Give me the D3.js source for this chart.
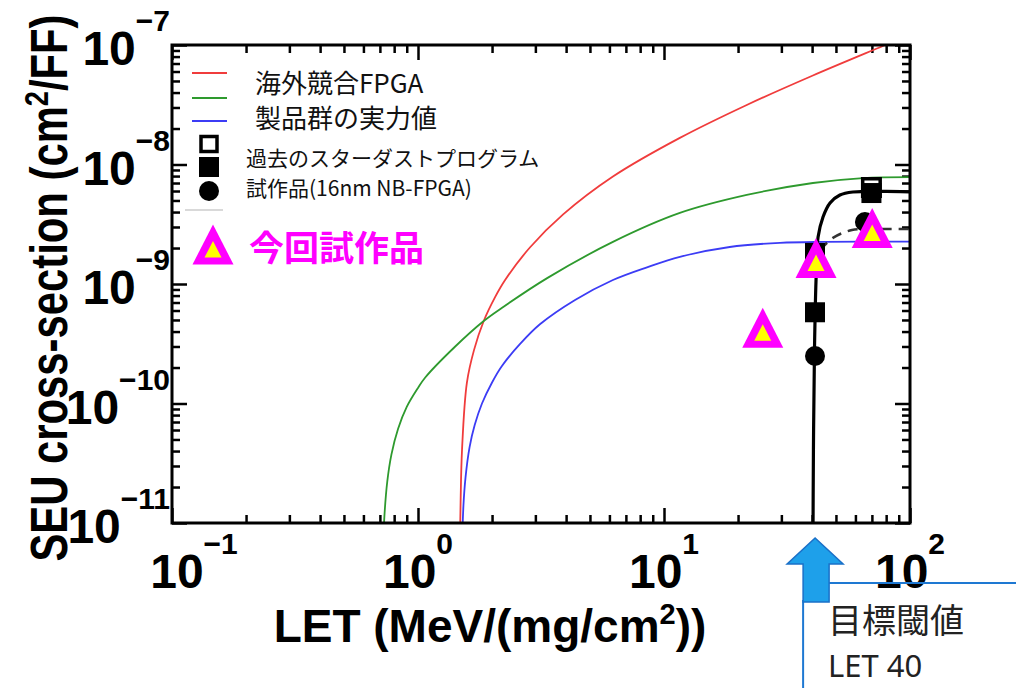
<!DOCTYPE html>
<html>
<head>
<meta charset="utf-8">
<script src="https://cdn.jsdelivr.net/npm/d3@7"></script>
<style>
  html, body { margin: 0; padding: 0; background: #fff; }
  svg { display: block; }
</style>
</head>
<body>
<svg id="chart" width="1016" height="688"></svg>
<script>
// Values: [LET (MeV/(mg/cm2)), cross-section (cm2/FF)]
var competitorFpga = [[1.478, 5e-12], [1.49, 1.5e-11], [1.51, 4.1e-11], [1.58, 1.49e-10], [1.69, 2.81e-10],
  [1.85, 4.9e-10], [2.06, 7.8e-10], [2.26, 1.08e-9], [2.85, 2.02e-9], [3.89, 3.82e-9],
  [6.2, 7.93e-9], [11.6, 1.67e-8], [21.7, 3.15e-8], [40.3, 5.56e-8], [77.6, 9.81e-8], [88.5, 1.1e-7]];

var productGroup = [[0.72, 5.5e-12], [0.73, 1.13e-11], [0.75, 2.22e-11], [0.78, 3.75e-11],
  [0.83, 6.15e-11], [0.9, 9.36e-11], [1.0, 1.35e-10], [1.07, 1.65e-10],
  [1.41, 2.97e-10], [1.85, 4.9e-10], [2.19, 6.3e-10], [3.35, 1.12e-9], [6.2, 2.25e-9],
  [11.6, 3.93e-9], [21.7, 5.56e-9], [40.3, 7.0e-9], [64.4, 7.7e-9], [100, 7.85e-9]];

var productActual = [[1.505, 5e-12], [1.53, 1.4e-11], [1.56, 2.4e-11], [1.62, 4.3e-11], [1.7, 6.6e-11],
  [1.82, 1.0e-10], [2.0, 1.5e-10], [2.19, 2.05e-10], [2.6, 3.15e-10], [3.13, 4.6e-10],
  [4.35, 7.35e-10], [6.2, 1.08e-9], [8.53, 1.38e-9], [11.6, 1.69e-9], [18.5, 2.04e-9],
  [29.6, 2.21e-9], [45, 2.25e-9], [100, 2.26e-9]];

var stardustFit = [[40.3, 5e-12], [40.5, 4.1e-11], [40.9, 2.8e-10], [41.5, 1.08e-9],
  [42.3, 2.47e-9], [44.3, 3.64e-9], [47.3, 4.77e-9], [51.9, 5.56e-9], [58.6, 5.89e-9],
  [100, 5.9e-9]];

var prototypeFit = [[43.1, 1.93e-9], [48.6, 2.43e-9], [58.1, 2.83e-9], [75.5, 2.88e-9], [100, 2.88e-9]];

var openSquares = [[69.7, 6.42e-9]];
var filledSquares = [[69.7, 5.77e-9], [41.1, 1.82e-9], [41.1, 5.8e-10]];
var circles = [[41.1, 2.5e-10], [65.6, 3.3e-9]];
var newPrototype = [[25.2, 4.3e-10], [41.5, 1.65e-9], [70.2, 2.94e-9]];

var targetLet = 40;

var xTicks = [0.1, 1, 10, 100];
var xTickExps = ["\u22121", "0", "1", "2"];
var yTicks = [1e-7, 1e-8, 1e-9, 1e-10, 1e-11];
var yTickExps = ["\u22127", "\u22128", "\u22129", "\u221210", "\u221211"];

var legendLines = ["海外競合FPGA", "製品群の実力値"];
var legendMarkers = ["過去のスターダストプログラム", "試作品(16nm NB-FPGA)"];
var legendNew = "今回試作品";

var W = 1016, H = 688;
var box = { left: 172, right: 910, top: 45, bottom: 523 };
var svg = d3.select("#chart");

var x = d3.scaleLog().domain([0.1, 100]).range([box.left, box.right]);
var y = d3.scaleLog().domain([1e-11, 1e-7]).range([box.bottom, box.top]);

var cjk = "'Noto Sans CJK JP', 'Noto Sans', sans-serif";
var latin = "'Liberation Sans', Arial, sans-serif";

// clip for the curves
svg.append("clipPath").attr("id", "plot")
  .append("rect")
  .attr("x", box.left).attr("y", box.top)
  .attr("width", box.right - box.left).attr("height", box.bottom - box.top);

// ---- ticks (inward, on all four sides) ----
var isMajor = function (v) { return Math.abs(Math.log10(v) - Math.round(Math.log10(v))) < 1e-6; };
var xMinor = x.ticks().filter(function (v) { return !isMajor(v); });
var yMinor = y.ticks().filter(function (v) { return !isMajor(v); });

function tickAxis(axisFn, scale, values, size, tx, ty) {
  var g = svg.append("g")
    .attr("transform", "translate(" + tx + "," + ty + ")")
    .call(axisFn(scale).tickValues(values).tickSize(size).tickFormat(""));
  g.select(".domain").remove();
  g.selectAll("line").attr("stroke", "#000").attr("stroke-width", 2.5);
}
[[xTicks, 15], [xMinor, 8]].forEach(function (t) {
  tickAxis(d3.axisBottom, x, t[0], -t[1], 0, box.bottom);
  tickAxis(d3.axisTop, x, t[0], -t[1], 0, box.top);
});
[[yTicks, 15], [yMinor, 8]].forEach(function (t) {
  tickAxis(d3.axisLeft, y, t[0], -t[1], box.left, 0);
  tickAxis(d3.axisRight, y, t[0], -t[1], box.right, 0);
});

// ---- curves ----
var line = d3.line()
  .x(function (d) { return x(d[0]); })
  .y(function (d) { return y(d[1]); })
  .curve(d3.curveCatmullRom.alpha(0.5));

var curves = svg.append("g").attr("clip-path", "url(#plot)");
var curveDefs = [
  [competitorFpga, "#f03c3c", 1.8, null],
  [productGroup, "#2e9a2e", 1.8, null],
  [productActual, "#3c3cf5", 1.8, null],
  [prototypeFit, "#333", 2.5, "10,7"],
  [stardustFit, "#000", 3.2, null]
];
curveDefs.forEach(function (c) {
  curves.append("path")
    .attr("d", line(c[0]))
    .attr("fill", "none")
    .attr("stroke", c[1])
    .attr("stroke-width", c[2])
    .attr("stroke-dasharray", c[3]);
});

// ---- markers ----
svg.append("g").selectAll("rect").data(openSquares).join("rect")
  .attr("x", function (d) { return x(d[0]) - 8.75; })
  .attr("y", function (d) { return y(d[1]) - 8.75; })
  .attr("width", 17.5).attr("height", 17.5)
  .attr("fill", "#fff").attr("stroke", "#000").attr("stroke-width", 3.5);

svg.append("g").selectAll("rect").data(filledSquares).join("rect")
  .attr("x", function (d) { return x(d[0]) - 10; })
  .attr("y", function (d) { return y(d[1]) - 10; })
  .attr("width", 20).attr("height", 20)
  .attr("fill", "#000");

svg.append("g").selectAll("circle").data(circles).join("circle")
  .attr("cx", function (d) { return x(d[0]); })
  .attr("cy", function (d) { return y(d[1]); })
  .attr("r", 10)
  .attr("fill", "#000");

function triangle(cx, cy, hw, up, down) {
  var p = d3.path();
  p.moveTo(cx, cy - up);
  p.lineTo(cx + hw, cy + down);
  p.lineTo(cx - hw, cy + down);
  p.closePath();
  return p.toString();
}
function drawTriangle(g, cx, cy) {
  g.append("path").attr("d", triangle(cx, cy, 20.5, 20, 20)).attr("fill", "#ff00ff");
  g.append("path").attr("d", triangle(cx, cy, 8.5, 3.5, 13)).attr("fill", "#ffff00");
}
var triG = svg.append("g");
newPrototype.forEach(function (d) { drawTriangle(triG, x(d[0]), y(d[1])); });

// ---- frame ----
svg.append("rect")
  .attr("x", box.left).attr("y", box.top)
  .attr("width", box.right - box.left).attr("height", box.bottom - box.top)
  .attr("fill", "none").attr("stroke", "#000").attr("stroke-width", 3);

// ---- tick labels ----
xTicks.forEach(function (v, i) {
  var t = svg.append("text")
    .attr("x", x(v) + (i === 0 ? 22 : 0)).attr("y", 588)
    .attr("text-anchor", "middle")
    .attr("font-family", latin).attr("font-weight", "bold");
  t.append("tspan").attr("font-size", 48).text("10");
  t.append("tspan").attr("font-size", 30).attr("dy", -34).text(xTickExps[i]);
});
yTicks.forEach(function (v, i) {
  var t = svg.append("text")
    .attr("x", 170).attr("y", y(v) + 20)
    .attr("text-anchor", "end")
    .attr("font-family", latin).attr("font-weight", "bold");
  t.append("tspan").attr("font-size", 48).text("10");
  t.append("tspan").attr("font-size", 30).attr("dy", -34).text(yTickExps[i]);
});

// ---- axis titles ----
var yt = svg.append("text")
  .attr("transform", "translate(67,288) rotate(-90) scale(0.82,1)")
  .attr("text-anchor", "middle")
  .attr("font-family", latin).attr("font-weight", "bold").attr("font-size", 51);
yt.append("tspan").text("SEU cross-section (cm");
yt.append("tspan").attr("font-size", 33).attr("dy", -19).text("2");
yt.append("tspan").attr("dy", 19).text("/FF)");

var xt = svg.append("text")
  .attr("x", 490).attr("y", 642)
  .attr("text-anchor", "middle")
  .attr("font-family", latin).attr("font-weight", "bold").attr("font-size", 46);
xt.append("tspan").text("LET (MeV/(mg/cm");
xt.append("tspan").attr("font-size", 29).attr("dy", -18).text("2");
xt.append("tspan").attr("dy", 18).text("))");

// ---- legend ----
var lg = svg.append("g");
[["#f03c3c", 73], ["#2e9a2e", 98], ["#3c3cf5", 121]].forEach(function (l) {
  lg.append("line").attr("x1", 192).attr("x2", 227).attr("y1", l[1]).attr("y2", l[1])
    .attr("stroke", l[0]).attr("stroke-width", 1.8);
});
legendLines.forEach(function (s, i) {
  lg.append("text").attr("x", 255).attr("y", 93 + i * 35)
    .attr("font-family", cjk).attr("font-size", 26).attr("fill", "#111").text(s);
});
lg.append("rect").attr("x", 201).attr("y", 136.5).attr("width", 16).attr("height", 15)
  .attr("fill", "#fff").attr("stroke", "#000").attr("stroke-width", 3.5);
lg.append("rect").attr("x", 199).attr("y", 157).attr("width", 20).attr("height", 20).attr("fill", "#000");
lg.append("circle").attr("cx", 209).attr("cy", 191).attr("r", 10).attr("fill", "#000");
legendMarkers.forEach(function (s, i) {
  lg.append("text").attr("x", 246).attr("y", 166 + i * 30)
    .attr("font-family", cjk).attr("font-size", 21).attr("fill", "#111").text(s);
});
lg.append("line").attr("x1", 185).attr("x2", 223).attr("y1", 210).attr("y2", 210)
  .attr("stroke", "#ccc").attr("stroke-width", 1.5);
drawTriangle(lg, 213, 244.5);
lg.append("text").attr("x", 249).attr("y", 261)
  .attr("font-family", cjk).attr("font-weight", "bold").attr("font-size", 35)
  .attr("fill", "#ff00ff").text(legendNew);

// ---- target threshold callout ----
var ax = x(targetLet) + 3;
var cg = svg.append("g");
cg.append("line").attr("x1", ax - 12).attr("x2", ax - 12).attr("y1", 600).attr("y2", H)
  .attr("stroke", "#1e78d2").attr("stroke-width", 2);
cg.append("line").attr("x1", ax + 14).attr("x2", W).attr("y1", 583).attr("y2", 583)
  .attr("stroke", "#1e78d2").attr("stroke-width", 2);
cg.append("path")
  .attr("d", "M" + ax + ",538L" + (ax + 28) + ",564L" + (ax + 14) + ",564L" + (ax + 14) + ",602L" +
    (ax - 12) + ",602L" + (ax - 12) + ",564L" + (ax - 28) + ",564Z")
  .attr("fill", "#1ea0ea").attr("stroke", "#1a70c8").attr("stroke-width", 1.5);
cg.append("text").attr("x", 828).attr("y", 633)
  .attr("font-family", cjk).attr("font-size", 34).attr("fill", "#222").text("目標閾値");
cg.append("text").attr("x", 828).attr("y", 677)
  .attr("font-family", "'Noto Sans', sans-serif").attr("font-size", 31).attr("fill", "#222")
  .text("LET " + targetLet);
</script>
</body>
</html>
